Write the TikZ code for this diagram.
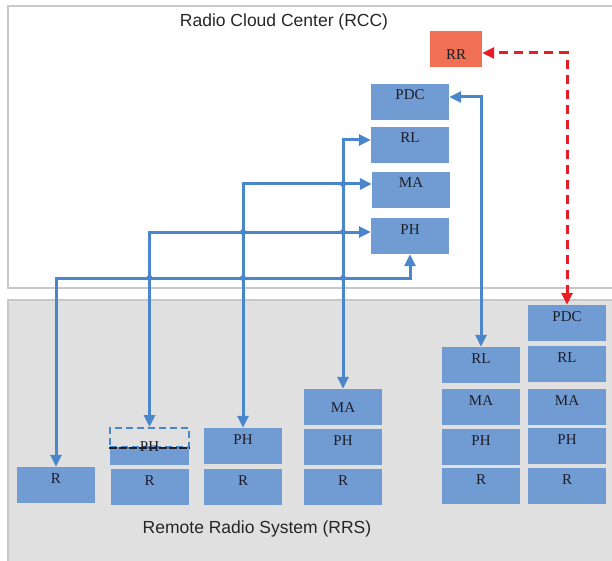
\documentclass[tikz,border=0pt]{standalone}
\usepackage{fontspec}
\setmainfont{Liberation Serif}
\setsansfont{Liberation Sans}
\usetikzlibrary{arrows.meta}
\definecolor{boxblue}{RGB}{112,155,211}
\definecolor{lineblue}{RGB}{74,134,202}
\definecolor{rrfill}{RGB}{240,112,85}
\definecolor{reddash}{RGB}{232,28,36}
\definecolor{rrsbg}{RGB}{224,224,224}
\definecolor{frame}{RGB}{200,200,200}
\definecolor{labeltxt}{RGB}{30,30,40}
\tikzset{
  blk/.style={rectangle, fill=boxblue, draw=none, minimum width=78pt, minimum height=36pt,
    inner sep=0pt, text height=10pt, text depth=14pt, font=\fontsize{15}{17}\selectfont, text=labeltxt},
  midlbl/.style={text height=10pt, text depth=0pt},
  lowlbl/.style={text height=22pt, text depth=0pt},
  rrblk/.style={blk, fill=rrfill, minimum width=52pt, lowlbl},
  conn/.style={draw=lineblue, line width=3pt, {Triangle[length=12pt,width=11pt]}-{Triangle[length=12pt,width=11pt]}},
  redconn/.style={draw=reddash, line width=3pt, dash pattern=on 9pt off 6pt, {Triangle[length=12pt,width=11pt]}-{Triangle[length=12pt,width=11pt]}},
  hop/.style={fill=lineblue, draw=none},
  region/.style={draw=frame, line width=1.5pt},
  title/.style={font=\sffamily\fontsize{17.5}{20}\selectfont, text=black!85}
}
\begin{document}
\begin{tikzpicture}[x=1pt,y=-1pt]
\useasboundingbox (0,0) rectangle (612,561);
% regions
\draw[region] (8,6) rectangle (625,288);
\draw[region, fill=rrsbg] (8,300) rectangle (625,575);
\node[title] (rcct) at (284,22) {Radio Cloud Center (RCC)};
\node[title] (rrst) at (257,529) {Remote Radio System (RRS)};
% RCC boxes
\node[rrblk] (rr) at (456,49) {RR};
\node[blk] (pdcC) at (410,102) {PDC};
\node[blk] (rlC) at (410,145) {RL};
\node[blk] (maC) at (411,190) {MA};
\node[blk] (phC) at (410,236) {PH};
% RRS column 1
\node[blk] (r1) at (56,485) {R};
% column 2
\node[rectangle, fill=boxblue, minimum width=79pt, minimum height=18pt, inner sep=0pt] (ph2f) at (149.5,456) {};
\node[rectangle, draw=lineblue, line width=2pt, dash pattern=on 7pt off 4pt, minimum width=79pt, minimum height=19pt, inner sep=0pt] (ph2d) at (149.5,437.5) {};
\draw[labeltxt, line width=1.2pt, dash pattern=on 8pt off 2pt] (ph2d.south west) -- (ph2d.south east);
\node[font=\fontsize{15}{17}\selectfont, text=labeltxt, anchor=base, inner sep=0pt] (ph2t) at (149.5,451) {PH};
\node[blk] (r2) at (149.5,487) {R};
% column 3
\node[blk] (ph3) at (243,446) {PH};
\node[blk] (r3) at (243,487) {R};
% column 4
\node[blk, midlbl] (ma4) at (343,407) {MA};
\node[blk] (ph4) at (343,447) {PH};
\node[blk] (r4) at (343,487) {R};
% column 5
\node[blk] (rl5) at (481,365) {RL};
\node[blk] (ma5) at (481,407) {MA};
\node[blk] (ph5) at (481,447) {PH};
\node[blk] (r5) at (481,486) {R};
% column 6
\node[blk] (pdc6) at (567,323) {PDC};
\node[blk] (rl6) at (567,364) {RL};
\node[blk] (ma6) at (567,407) {MA};
\node[blk] (ph6) at (567,446) {PH};
\node[blk] (r6) at (567,486) {R};
% helper levels
\coordinate (h1) at (0,278);
\coordinate (h2) at (0,232);
\coordinate (h3) at (0,184);
\coordinate (h4) at (0,140);
\coordinate (h5) at (0,97);
\coordinate (hr) at (0,53);
% connectors
\draw[conn] (r1.north) -- (r1.north |- h1) -| (phC.south);
\draw[conn] (ph2d.north) -- (ph2d.north |- h2) -- (phC.west |- h2);
\draw[conn] (ph3.north) -- (ph3.north |- h3) -- (maC.west |- h3);
\draw[conn] (ma4.north) -- (ma4.north |- h4) -- (rlC.west |- h4);
\draw[conn] (rl5.north) -- (rl5.north |- h5) -- (pdcC.east |- h5);
\draw[redconn] (pdc6.north) -- (pdc6.north |- hr) -- (rr.east |- hr);
% crossing hops
\foreach \x/\y in {149.5/278, 243/278, 343/278, 243/232, 343/232, 343/184}
  \fill[hop] (\x,\y) circle (3pt);
\end{tikzpicture}
\end{document}
